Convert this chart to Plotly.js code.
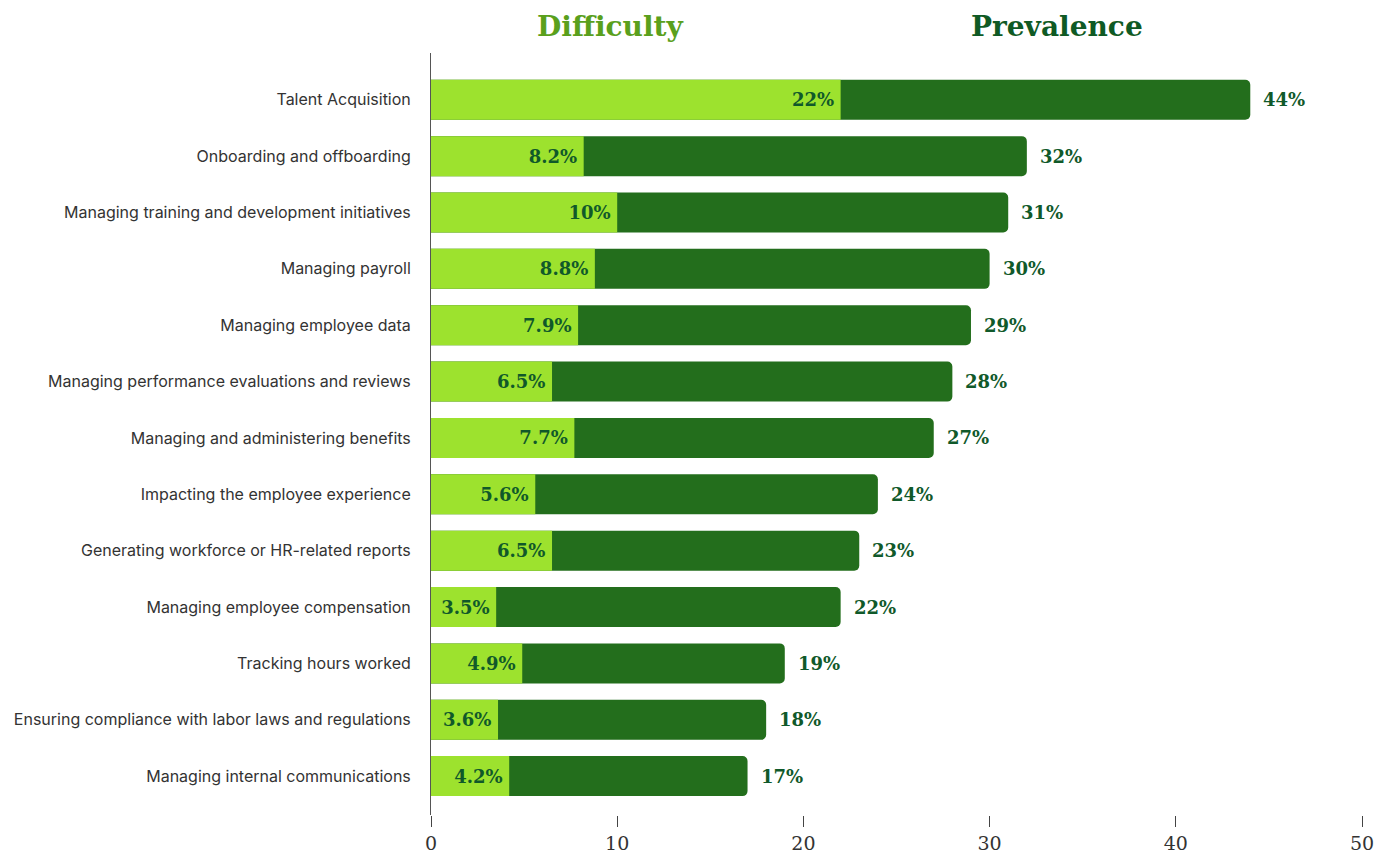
<!DOCTYPE html>
<html>
<head>
<meta charset="utf-8">
<script src="https://cdn.plot.ly/plotly-3.0.1.min.js"></script>
<style>html,body{margin:0;padding:0;background:#fff;}#chart{width:1377px;height:854px;}</style>
</head>
<body>
<div id="chart"></div>
<script>
const categories = [
  "Talent Acquisition",
  "Onboarding and offboarding",
  "Managing training and development initiatives",
  "Managing payroll",
  "Managing employee data",
  "Managing performance evaluations and reviews",
  "Managing and administering benefits",
  "Impacting the employee experience",
  "Generating workforce or HR-related reports",
  "Managing employee compensation",
  "Tracking hours worked",
  "Ensuring compliance with labor laws and regulations",
  "Managing internal communications"
];
const difficulty = [22, 8.2, 10, 8.8, 7.9, 6.5, 7.7, 5.6, 6.5, 3.5, 4.9, 3.6, 4.2];
const prevalence = [44, 32, 31, 30, 29, 28, 27, 24, 23, 22, 19, 18, 17];
const xTicks = [0, 10, 20, 30, 40, 50];
const seriesTitles = ["Difficulty", "Prevalence"];

const LIGHT = "#9de22e";
const DARK = "#236e1c";
const LABEL = "#10592a";
const serif = "DejaVu Serif, Liberation Serif, serif";

const W = 1377, H = 854;
const mL = 431, mR = 15, mT = 53, mB = 39;
const pw = W - mL - mR, ph = H - mT - mB;

const traces = [
  {
    type: "bar", orientation: "h",
    y: categories, x: prevalence,
    marker: {color: DARK, cornerradius: 5, line: {width: 0}},
    width: 0.71,
    hoverinfo: "skip",
    cliponaxis: false
  },
  {
    type: "bar", orientation: "h",
    y: categories, x: difficulty,
    marker: {color: LIGHT, line: {width: 0}},
    width: 0.71,
    text: difficulty.map(v => v + "%\u2009"),
    textposition: "inside",
    insidetextanchor: "end",
    textangle: 0,
    constraintext: "none",
    textfont: {family: serif, size: 18, color: LABEL, weight: "bold"},
    hoverinfo: "skip"
  }
];

const annotations = prevalence.map((v, i) => ({
  x: v, y: categories[i], xref: "x", yref: "y",
  text: v + "%", showarrow: false, xanchor: "left", yanchor: "middle", xshift: 11,
  font: {family: serif, size: 18, color: LABEL, weight: "bold"}
}));
const titleColors = ["#5aa01c", "#0f5a24"];
const titleX = [610, 1057];
seriesTitles.forEach((t, i) => {
  annotations.push({
    x: (titleX[i] - mL) / pw, y: (H - 27 - mB) / ph,
    xref: "paper", yref: "paper", xanchor: "center", yanchor: "middle",
    text: t, showarrow: false,
    font: {family: serif, size: 28, color: titleColors[i], weight: "bold"}
  });
});

const layout = {
  width: W, height: H,
  margin: {l: mL, r: mR, t: mT, b: mB},
  paper_bgcolor: "#fff", plot_bgcolor: "#fff",
  barmode: "overlay",
  showlegend: false,
  xaxis: {
    range: [0, 50],
    tickvals: xTicks,
    ticktext: xTicks.map(String),
    showgrid: false, zeroline: false, showline: false,
    ticks: "outside", ticklen: 11, tickwidth: 1, tickcolor: "#444",
    tickfont: {family: serif, size: 19, color: "#333"},
    fixedrange: true
  },
  yaxis: {
    type: "category",
    range: [12.69, -0.83],
    showgrid: false, zeroline: false,
    showline: true, linecolor: "#555", linewidth: 1,
    ticks: "", ticklabelstandoff: 16,
    tickfont: {family: "Inter, Roboto, sans-serif", size: 16, color: "#333"},
    fixedrange: true
  },
  annotations: annotations,
  font: {family: "Inter, sans-serif"}
};

Plotly.newPlot("chart", traces, layout, {displayModeBar: false, staticPlot: true});
</script>
</body>
</html>
